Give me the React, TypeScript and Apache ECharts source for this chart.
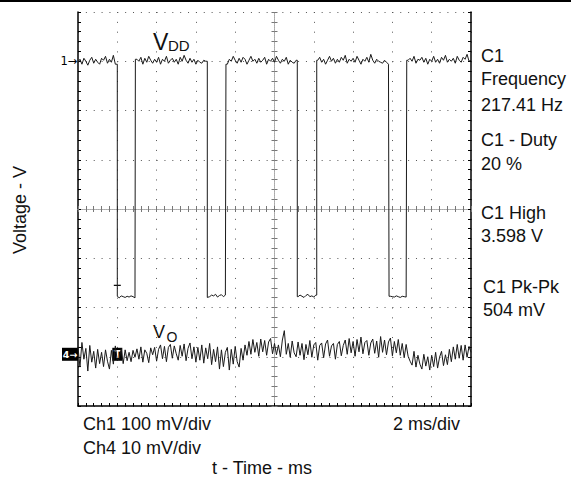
import React, { useEffect, useRef } from "react";
import * as echarts from "echarts";

const FONT = "'Liberation Sans', Arial, Helvetica, sans-serif";
const MARK_FONT = "'DejaVu Sans', sans-serif";

// Time base: 2 ms/div, 10 divisions
const timeMinMs = 0;
const timeMaxMs = 20;
const timeDivMs = 2;
const sampleStepMs = 0.1;

// Vertical: 8 divisions; Ch1 100 mV/div, Ch4 10 mV/div
const voltMinDiv = -4;
const voltMaxDiv = 4;
const ch1MvPerDiv = 100;
const ch4MvPerDiv = 10;

// Channel 1 (VDD) square wave, mV relative to screen centre
const vddHighMv = 298;
const vddLowMv = -178;
const vddFallMs = [2.0, 6.58, 11.16, 15.83];
const vddRiseMs = [2.92, 7.53, 12.15, 16.73];
const vddNoiseMv = [
  0, 6, -4, 8, 2, -6, 4, 10, -2, 6, 0, -4, 8, 4, 12, -2, 6, 0, 14, -4,
  2, -6, 4, 0, -4, 2, -2, 4, 0, -6, 6, 2, 10, -4, 8, 0, 12, 4, -2, 6,
  0, 10, -4, 6, 2, 12, -2, 4, 8, 0, 6, -4, 10, 2, 14, 4, -2, 8, 0, 6,
  -4, 4, 0, -2, 4, 2, -4, 0, 8, 4, 12, -2, 6, 10, 0, 8, -4, 6, 2, 12,
  4, -2, 8, 0, 10, 6, -4, 4, 12, 2, 6, -2, 8, 0, 4, 10, -4, 6, 2, 8,
  0, 12, 4, -2, 6, 2, 10, -4, 4, 0, -2, 4, 0, 8, 2, -4, 6, 12, 0, 4,
  -2, 8, 4, 10, 0, 6, -4, 4, 12, 2, 8, -2, 6, 0, 10, 4, 14, -2, 6, 2,
  8, 0, 12, 4, -4, 6, 2, 10, 0, 16, 4, -2, 6, 2, 0, -2, 4, 0, -4, 2,
  0, -2, 4, 0, -4, 2, 0, -2, 4, 8, 2, 12, -2, 6, 4, 10, 0, 8, -4, 6,
  2, 12, 0, 6, -2, 10, 4, 14, 0, 6, 2, 8, -2, 12, 4, 0, 10, 6, 16, 2,
  4,
];

// Channel 4 (VO) ripple, mV relative to its reference marker
const voOffsetDiv = -2.95;
const voNoiseMv = [
  1.5, -2.6, 2.4, -1.0, 1.2, -3.4, 1.8, -1.6, 0.6, -2.8, 1.0, -1.9, 0.4, -2.5, 0.9, -1.4, -3.0, 0.8, -2.0, 1.7, -1.3,
  -0.8, 1.2, -1.9, 0.9, -1.3, 0.4, -1.5, 0.8, -0.6, 1.1, -1.0, 1.5, -1.6, 0.9, 0.2, -1.7, 1.3, -0.1, 1.4, -1.4,
  1.0, 1.9, -0.9, 1.6, -1.5, 1.4, 2.0, -0.8, 1.7, 0.1, -1.2, 1.8, -0.4, 2.1, -1.3, 1.2, 2.3, -0.9, 1.5, -1.6,
  1.4, -1.2, 1.9, -1.8, 1.3, -0.9, 2.2, -2.1, 1.0, -1.5,
  1.5, -3.0, 0.9, -2.5, 0.4, 1.4, -3.2, 1.0, -2.0, 1.6, -1.5, -2.6, 1.2, -1.2, 1.9,
  -0.2, 2.6, 0.0, 3.0, 0.4, 2.4, -0.4, 3.1, 0.5, 2.8, -0.2, 2.5, 3.2, 0.1, 2.2, -0.1, 1.9, -0.5, 2.9, 4.8, 0.0, 2.2, -0.6, 2.7, 0.3,
  -0.5, 2.5, -0.2, 2.2, -1.1, 2.0, -0.1, 2.8, -0.6, 1.9, 2.4, -1.2, 1.8, 2.3, -0.7, 2.1, 2.9, -0.4, 1.7, 2.2, -1.0, 2.0, 2.6, -0.3, 1.8,
  2.9, 0.0, 3.2, 0.3, 2.6, -0.4, 3.0, 0.5, 3.5, 0.1, 2.4, 2.8, -0.2, 2.3, 3.1, 0.2, 2.7, -0.6, 3.6, 0.4, 2.9, -0.1, 2.5, 3.3, -0.3, 2.6, 0.3, 3.0, -0.2, 2.2, -0.7, 2.0, -0.4,
  -1.4, -2.2, 0.6, -2.6, -0.2, -2.0, -3.0, 0.0, -2.4, -0.5, -3.2, -0.2, -2.5, 0.4, -2.8, -0.6, 0.6, -2.3, -0.1, -2.1, 1.0, -1.5,
  1.5, -1.0, 2.0, -0.8, 1.8, -1.2, 1.9, -0.6, 1.6, 0.4,
];

const triggerLevelDiv = -1.55;

const measureLines = ["C1", "Frequency", "217.41 Hz", "C1 - Duty", "20 %", "C1 High", "3.598 V", "C1 Pk-Pk", "504 mV"];
const measureBaselines = [62, 85, 111.5, 146.5, 170, 219, 242.5, 293, 316.5];
const scaleLabels = ["Ch1 100 mV/div", "Ch4 10 mV/div", "2 ms/div"];
const xTitle = "t - Time - ms";
const yTitle = "Voltage - V";

function buildVdd(): number[][] {
  const pts: number[][] = [];
  const edges = [
    ...vddFallMs.map((t) => ({ t, fall: true })),
    ...vddRiseMs.map((t) => ({ t, fall: false })),
  ].sort((a, b) => a.t - b.t);
  const isLow = (t: number) => vddFallMs.some((f, k) => t >= f - 1e-9 && t < vddRiseMs[k] - 1e-9);
  const hi = (n: number) => (vddHighMv + n) / ch1MvPerDiv;
  const lo = (n: number) => (vddLowMv + n * 0.4) / ch1MvPerDiv;
  let e = 0;
  for (let i = 0; i < vddNoiseMv.length; i++) {
    const t = Math.round(i * sampleStepMs * 1000) / 1000;
    const n = vddNoiseMv[i];
    while (e < edges.length && edges[e].t <= t + 1e-9) {
      const ed = edges[e];
      const prevN = vddNoiseMv[Math.max(0, i - 1)];
      if (ed.fall) pts.push([ed.t, hi(prevN)], [ed.t, lo(n)]);
      else pts.push([ed.t, lo(prevN)], [ed.t, hi(n)]);
      e++;
    }
    pts.push([t, isLow(t) ? lo(n) : hi(n)]);
  }
  return pts;
}

function buildVo(): number[][] {
  return voNoiseMv.map((mv, i) => [Math.round(i * sampleStepMs * 1000) / 1000, voOffsetDiv + mv / ch4MvPerDiv]);
}

const txt = (text: string, x: number, baseline: number, fs: number, align = "left") => ({
  type: "text",
  x,
  y: baseline - 0.35 * fs,
  style: { text, fontSize: fs, fontFamily: FONT, fill: "#111", align, verticalAlign: "middle" },
});

export default function App() {
  const ref = useRef<HTMLDivElement>(null);
  useEffect(() => {
    if (!ref.current) return;
    const chart = echarts.init(ref.current, undefined, { renderer: "svg" });
    const tick = { color: "#000", width: 1 };
    const centreTick = { color: "#777", width: 1 };
    const noLabel = { show: false };
    const centreLine = { color: "#aaa", width: 1, type: [1, 1] };
    const baseX = {
      type: "value",
      min: timeMinMs,
      max: timeMaxMs,
      interval: timeDivMs,
      position: "bottom",
      axisLabel: noLabel,
      minorTick: { show: true, splitNumber: 5, length: 3, lineStyle: tick },
    };
    const baseY = {
      type: "value",
      min: voltMinDiv,
      max: voltMaxDiv,
      interval: 1,
      axisLabel: noLabel,
      minorTick: { show: true, splitNumber: 5, length: 3, lineStyle: tick },
    };
    const centreX = (inside: boolean) => ({
      ...baseX,
      offset: -197,
      axisLine: { show: true, onZero: false, lineStyle: centreLine },
      axisTick: { show: true, inside, length: 3, lineStyle: centreTick },
      minorTick: { show: true, splitNumber: 5, length: 3, lineStyle: centreTick },
      splitLine: { show: false },
    });
    const centreY = (inside: boolean) => ({
      ...baseY,
      position: "left",
      offset: -196.5,
      axisLine: { show: true, onZero: false, lineStyle: centreLine },
      axisTick: { show: true, inside, length: 3, lineStyle: centreTick },
      minorTick: { show: true, splitNumber: 5, length: 3, lineStyle: centreTick },
      splitLine: { show: false },
    });
    chart.setOption({
      animation: false,
      grid: { left: 78, top: 12, width: 393, height: 394, containLabel: false },
      xAxis: [
        {
          ...baseX,
          axisLine: { show: true, onZero: false, lineStyle: { color: "#000", width: 1.5 } },
          axisTick: { show: true, inside: true, length: 3, lineStyle: tick },
          splitLine: { show: true, lineStyle: { color: "#555", width: 1, type: [1, 8.85] } },
        },
        centreX(true),
        centreX(false),
      ],
      yAxis: [
        {
          ...baseY,
          position: "left",
          axisLine: { show: true, onZero: false, lineStyle: { color: "#000", width: 1.5 } },
          axisTick: { show: true, inside: true, length: 3, lineStyle: tick },
          splitLine: { show: true, lineStyle: { color: "#555", width: 1, type: [1, 6.86] } },
        },
        {
          ...baseY,
          position: "right",
          axisLine: { show: true, onZero: false, lineStyle: { color: "#000", width: 1.5 } },
          axisTick: { show: true, inside: true, length: 3, lineStyle: tick },
          splitLine: { show: false },
        },
        centreY(true),
        centreY(false),
      ],
      series: [
        {
          name: "VDD",
          type: "line",
          xAxisIndex: 0,
          yAxisIndex: 0,
          data: buildVdd(),
          showSymbol: false,
          symbol: "none",
          lineStyle: { color: "#1a1a1a", width: 1 },
          z: 5,
          markPoint: {
            symbol: "rect",
            data: [
              {
                coord: [timeMinMs, (vddHighMv + 3) / ch1MvPerDiv],
                symbolSize: [18, 12],
                symbolOffset: [-9, 0],
                itemStyle: { color: "rgba(0,0,0,0)" },
                label: { show: true, formatter: "1→", color: "#000", fontSize: 11.5, fontFamily: MARK_FONT, position: "inside" },
              },
              {
                coord: [vddFallMs[0], triggerLevelDiv],
                symbolSize: [7, 1.2],
                itemStyle: { color: "#000" },
                label: { show: false },
              },
            ],
          },
        },
        {
          name: "VO",
          type: "line",
          xAxisIndex: 0,
          yAxisIndex: 0,
          data: buildVo(),
          showSymbol: false,
          symbol: "none",
          lineStyle: { color: "#1a1a1a", width: 1 },
          z: 5,
          markPoint: {
            symbol: "rect",
            data: [
              {
                coord: [timeMinMs, voOffsetDiv],
                symbolSize: [16, 13],
                symbolOffset: [-8, 0],
                itemStyle: { color: "#000" },
                label: { show: true, formatter: "4→", color: "#fff", fontSize: 9.5, fontWeight: "bold", fontFamily: MARK_FONT, position: "inside" },
              },
              {
                coord: [vddFallMs[0], voOffsetDiv],
                symbolSize: [10, 13],
                itemStyle: { color: "#000" },
                label: { show: true, formatter: "T", color: "#fff", fontSize: 10, fontWeight: "bold", fontFamily: MARK_FONT, position: "inside" },
              },
            ],
          },
        },
      ],
      graphic: [
        { type: "line", shape: { x1: 0, y1: 1, x2: 571, y2: 1 }, style: { stroke: "#000", lineWidth: 2 } },
        txt("V", 153, 50, 23),
        txt("DD", 168, 51, 15),
        txt("V", 153, 338, 18),
        txt("O", 166.5, 342, 14),
        ...measureLines.map((s, i) => txt(s, i >= 7 ? 483 : 481, measureBaselines[i], 18)),
        txt(scaleLabels[0], 83, 430, 18),
        txt(scaleLabels[1], 83, 454, 18),
        txt(scaleLabels[2], 393, 430, 18),
        txt(xTitle, 262, 474, 18, "center"),
        {
          type: "text",
          x: 19.5,
          y: 210,
          rotation: Math.PI / 2,
          style: { text: yTitle, fontSize: 18, fontFamily: FONT, fill: "#111", align: "center", verticalAlign: "middle" },
        },
      ],
    });
    return () => chart.dispose();
  }, []);
  return <div ref={ref} style={{ position: "absolute", left: 0, top: 0, width: 571, height: 478 }} />;
}
